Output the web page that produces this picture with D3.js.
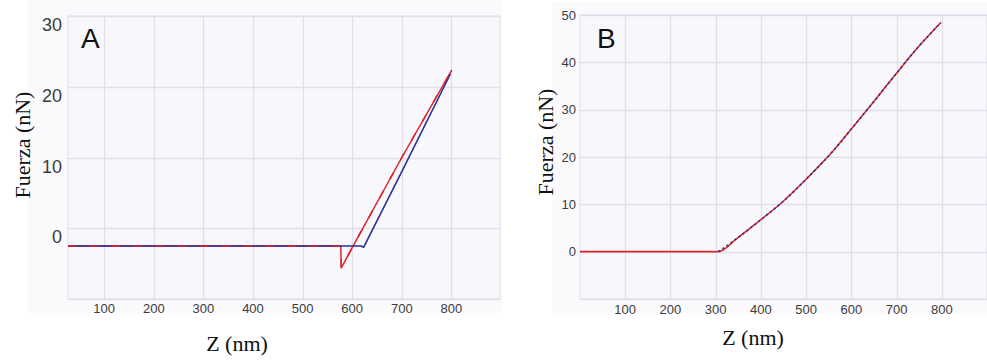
<!DOCTYPE html>
<html>
<head>
<meta charset="utf-8">
<script src="https://cdn.jsdelivr.net/npm/d3@7"></script>
<style>
  html, body { margin: 0; padding: 0; background: #ffffff; }
  svg { display: block; }
</style>
</head>
<body>
<svg id="chart" width="987" height="361"></svg>
<script>
// ---------- Data ----------
// Panel A (Z in nm, Fuerza in nN)
const aZRed  = [27, 100, 200, 300, 400, 500, 577, 578, 602, 700, 801];
const aFRed  = [-2.5, -2.5, -2.5, -2.5, -2.5, -2.5, -2.5, -5.6, -2.5, 10.0, 22.4];
const aZBlue = [27, 100, 200, 300, 400, 500, 600, 618, 623, 700, 798];
const aFBlue = [-2.5, -2.5, -2.5, -2.5, -2.5, -2.5, -2.5, -2.5, -2.7, 8.0, 21.8];
// Panel B
const bZRed  = [0, 100, 200, 300, 306, 347, 398, 449, 501, 560, 600, 648, 700, 744, 798];
const bFRed  = [0, 0, 0, 0, 0, 2.8, 6.6, 10.6, 15.4, 21.3, 25.9, 31.5, 37.7, 42.8, 48.4];
const bZBlue = [306, 347, 398, 449, 501, 560, 600, 648, 700, 744, 798];
const bFBlue = [0, 2.8, 6.6, 10.6, 15.4, 21.3, 25.9, 31.5, 37.7, 42.8, 48.4];

// Tick labels
const aXTicks = [100, 200, 300, 400, 500, 600, 700, 800];
const aYTicks = [30, 20, 10, 0];
const aYGrid  = [30, 20, 10, 0, -10];
const bXTicks = [100, 200, 300, 400, 500, 600, 700, 800];
const bYTicks = [50, 40, 30, 20, 10, 0];
const bYGrid  = [50, 40, 30, 20, 10, 0, -10];

const panelLabels = ["A", "B"];
const xTitle = "Z (nm)";
const yTitle = "Fuerza (nN)";

// ---------- Drawing ----------
const svg = d3.select("#chart");
const RED = "#d9262b", BLUE = "#2b2f96", GRID = "#dfdfea", TICK = "#3c3c3c";

function panel(cfg) {
  const g = svg.append("g");
  const x = d3.scaleLinear().domain(cfg.xDomain).range(cfg.xRange);
  const y = d3.scaleLinear().domain(cfg.yDomain).range(cfg.yRange);

  g.append("rect")
    .attr("x", cfg.bg[0]).attr("y", cfg.bg[1])
    .attr("width", cfg.bg[2] - cfg.bg[0]).attr("height", cfg.bg[3] - cfg.bg[1])
    .attr("fill", "#fafafc");
  g.append("rect")
    .attr("x", cfg.xRange[0]).attr("y", cfg.yRange[1])
    .attr("width", cfg.xRange[1] - cfg.xRange[0])
    .attr("height", cfg.yRange[0] - cfg.yRange[1])
    .attr("fill", "#f8f8fc")
    .attr("stroke", GRID).attr("stroke-width", 1);

  g.append("g").selectAll("line").data(cfg.xTicks).join("line")
    .attr("x1", d => Math.round(x(d)) + 0.5).attr("x2", d => Math.round(x(d)) + 0.5)
    .attr("y1", cfg.yRange[1]).attr("y2", cfg.yRange[0])
    .attr("stroke", GRID).attr("stroke-width", 1.3);
  g.append("g").selectAll("line").data(cfg.yGrid).join("line")
    .attr("y1", d => Math.round(y(d)) + 0.5).attr("y2", d => Math.round(y(d)) + 0.5)
    .attr("x1", cfg.xRange[0]).attr("x2", cfg.xRange[1])
    .attr("stroke", GRID).attr("stroke-width", 1.3);

  g.append("g").selectAll("text").data(cfg.xTicks).join("text")
    .attr("x", d => x(d)).attr("y", cfg.xTickY)
    .attr("text-anchor", "middle")
    .attr("font-family", "Liberation Sans, Arial, sans-serif")
    .attr("font-size", 13).attr("fill", TICK)
    .text(d => d);
  g.append("g").selectAll("text").data(cfg.yTicks).join("text")
    .attr("x", cfg.yTickX).attr("y", d => y(d) + cfg.yTickDy)
    .attr("text-anchor", "end").attr("dominant-baseline", "central")
    .attr("font-family", "Liberation Sans, Arial, sans-serif")
    .attr("font-size", cfg.yTickSize).attr("fill", TICK)
    .text(d => d);

  g.append("text")
    .attr("x", cfg.xTitlePos[0]).attr("y", cfg.xTitlePos[1])
    .attr("text-anchor", "middle")
    .attr("font-family", "Liberation Serif, Times New Roman, serif")
    .attr("font-size", 22).attr("fill", "#111")
    .text(xTitle);
  g.append("text")
    .attr("transform", `translate(${cfg.yTitlePos[0]},${cfg.yTitlePos[1]}) rotate(-90)`)
    .attr("text-anchor", "middle").attr("dominant-baseline", "central")
    .attr("font-family", "Liberation Serif, Times New Roman, serif")
    .attr("font-size", 22).attr("fill", "#111")
    .text(yTitle);

  g.append("text")
    .attr("x", cfg.labelPos[0]).attr("y", cfg.labelPos[1])
    .attr("font-family", "Liberation Sans, Arial, sans-serif")
    .attr("font-size", 28).attr("fill", "#111")
    .text(cfg.label);

  cfg.series.forEach(s => {
    const line = d3.line().x(d => x(d[0])).y(d => y(d[1]))
      .curve(s.smooth ? d3.curveMonotoneX : d3.curveLinear);
    g.append("path")
      .datum(d3.zip(s.z, s.f))
      .attr("d", line)
      .attr("fill", "none")
      .attr("stroke", s.color)
      .attr("stroke-width", s.width)
      .attr("stroke-dasharray", s.dash || null)
      .attr("stroke-linejoin", "round");
  });
}

panel({
  label: panelLabels[0], labelPos: [81, 48],
  bg: [28, 0, 502, 313],
  xDomain: [27, 898], xRange: [68, 500],
  yDomain: [-10, 30], yRange: [299, 16],
  xTicks: aXTicks, yTicks: aYTicks, yGrid: aYGrid,
  xTickY: 313, yTickX: 62, yTickDy: 9, yTickSize: 18,
  xTitlePos: [237, 351], yTitlePos: [22, 145],
  series: [
    { z: aZRed, f: aFRed, color: RED, width: 1.5 },
    { z: aZBlue, f: aFBlue, color: BLUE, width: 1.6 },
    { z: aZRed, f: aFRed, color: RED, width: 1.5, dash: "8,14" }
  ]
});

panel({
  label: panelLabels[1], labelPos: [597, 48],
  bg: [552, 2, 987, 313],
  xDomain: [0, 900], xRange: [580, 987],
  yDomain: [-10, 50], yRange: [299, 15],
  xTicks: bXTicks, yTicks: bYTicks, yGrid: bYGrid,
  xTickY: 314, yTickX: 576, yTickDy: 0, yTickSize: 13,
  xTitlePos: [753, 345], yTitlePos: [545, 142],
  series: [
    { z: bZRed, f: bFRed, color: RED, width: 1.6, smooth: true },
    { z: bZBlue, f: bFBlue, color: BLUE, width: 1.6, dash: "2,3", smooth: true }
  ]
});
</script>
</body>
</html>
